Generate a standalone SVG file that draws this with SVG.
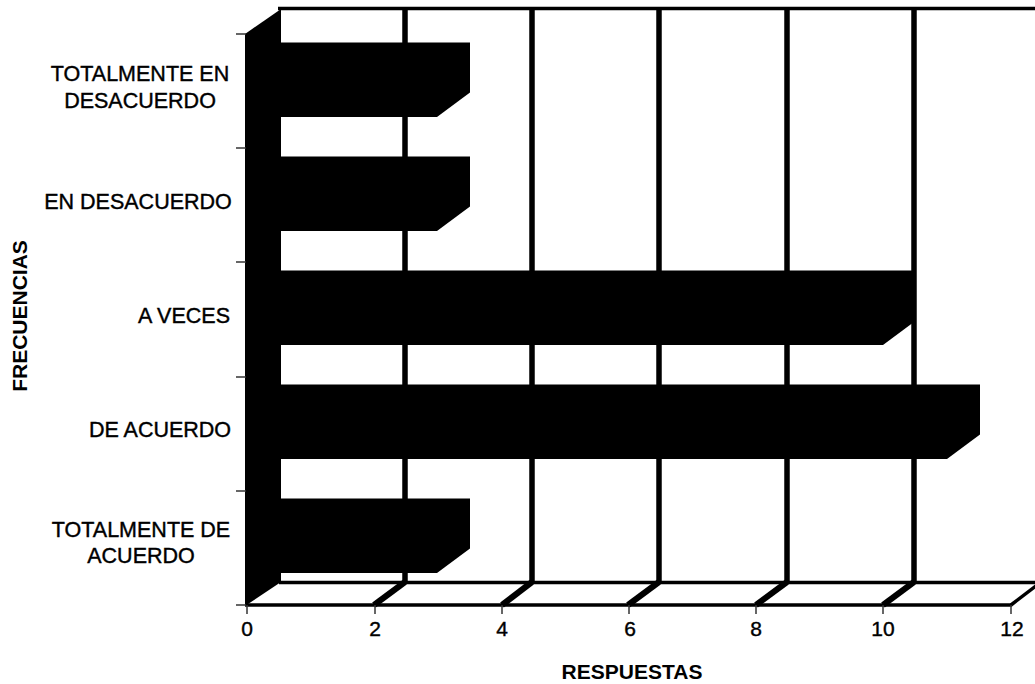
<svg xmlns="http://www.w3.org/2000/svg" width="1035" height="684" viewBox="0 0 1035 684">
<style>
.lbl{font-family:"Liberation Sans",Arial,sans-serif;font-size:21.5px;fill:#000;stroke:#000;stroke-width:0.4;text-anchor:middle}
.num{font-family:"Liberation Sans",Arial,sans-serif;font-size:21px;fill:#000;stroke:#000;stroke-width:0.4;text-anchor:middle}
.ttl{font-family:"Liberation Sans",Arial,sans-serif;font-size:21px;font-weight:bold;fill:#000;text-anchor:middle}
.grid{stroke:#000;stroke-width:5.5;fill:none}
.edge{stroke:#000;stroke-width:3.5;fill:none}
.diag{stroke:#000;stroke-width:6;fill:none}
.tick{stroke:#333;stroke-width:1.5;fill:none}
.bar{fill:#000}
</style>
<rect x="0" y="0" width="1035" height="684" fill="#fff"/>
<g id="walls">
  <polygon points="245,34 281,9 281,582 245,606" fill="#000"/>
</g>
<g id="connectors">
  <line class="edge" x1="278" y1="8.5" x2="1035" y2="8.5"/>
  <line class="grid" x1="405" y1="8" x2="405" y2="582"/>
  <line class="grid" x1="532" y1="8" x2="532" y2="582"/>
  <line class="grid" x1="659" y1="8" x2="659" y2="582"/>
  <line class="grid" x1="787" y1="8" x2="787" y2="582"/>
  <line class="grid" x1="914" y1="8" x2="914" y2="582"/>
  <line class="edge" x1="279" y1="582.5" x2="1035" y2="582.5"/>
  <line class="edge" x1="245" y1="605" x2="1012" y2="605"/>
  <line class="diag" x1="374" y1="605" x2="405" y2="582"/>
  <line class="diag" x1="502" y1="605" x2="532" y2="582"/>
  <line class="diag" x1="628" y1="605" x2="659" y2="582"/>
  <line class="diag" x1="756" y1="605" x2="787" y2="582"/>
  <line class="diag" x1="883" y1="605" x2="914" y2="582"/>
  <line class="edge" x1="1011" y1="605" x2="1041" y2="582"/>
  <line class="tick" x1="236" y1="34" x2="246" y2="34"/>
  <line class="tick" x1="236" y1="148" x2="246" y2="148"/>
  <line class="tick" x1="236" y1="262" x2="246" y2="262"/>
  <line class="tick" x1="236" y1="377" x2="246" y2="377"/>
  <line class="tick" x1="236" y1="491" x2="246" y2="491"/>
  <line class="tick" x1="236" y1="605" x2="246" y2="605"/>
  <line class="tick" x1="247" y1="605" x2="247" y2="614"/>
  <line class="tick" x1="375" y1="605" x2="375" y2="614"/>
  <line class="tick" x1="502" y1="605" x2="502" y2="614"/>
  <line class="tick" x1="629" y1="605" x2="629" y2="614"/>
  <line class="tick" x1="756" y1="605" x2="756" y2="614"/>
  <line class="tick" x1="883" y1="605" x2="883" y2="614"/>
  <line class="tick" x1="1011" y1="605" x2="1011" y2="614"/>
</g>
<g id="bar-totalmente-en-desacuerdo">
  <polygon class="bar" points="245,117 245,67 278,42.5 470,42.5 470,92.5 437,117"/>
</g>
<g id="bar-en-desacuerdo">
  <polygon class="bar" points="245,231 245,181 278,156.5 470,156.5 470,206.5 437,231"/>
</g>
<g id="bar-a-veces">
  <polygon class="bar" points="245,345 245,295 278,270.5 916,270.5 916,320.5 883,345"/>
</g>
<g id="bar-de-acuerdo">
  <polygon class="bar" points="245,459 245,409 278,384.5 980,384.5 980,434.5 947,459"/>
</g>
<g id="bar-totalmente-de-acuerdo">
  <polygon class="bar" points="245,573 245,523 278,498.5 470,498.5 470,548.5 437,573"/>
</g>
<g id="category-labels">
  <text class="lbl" x="140" y="81">TOTALMENTE EN</text>
  <text class="lbl" x="140" y="108">DESACUERDO</text>
  <text class="lbl" x="138" y="209">EN DESACUERDO</text>
  <text class="lbl" x="184" y="323">A VECES</text>
  <text class="lbl" x="160" y="437">DE ACUERDO</text>
  <text class="lbl" x="141" y="537">TOTALMENTE DE</text>
  <text class="lbl" x="141" y="563">ACUERDO</text>
</g>
<g id="value-labels">
  <text class="num" x="247" y="636">0</text>
  <text class="num" x="375" y="636">2</text>
  <text class="num" x="502" y="636">4</text>
  <text class="num" x="630" y="636">6</text>
  <text class="num" x="756" y="636">8</text>
  <text class="num" x="883" y="636">10</text>
  <text class="num" x="1012" y="636">12</text>
</g>
<g id="axis-titles">
  <text class="ttl" x="632" y="679">RESPUESTAS</text>
  <text class="ttl" transform="translate(27,316) rotate(-90)" x="0" y="0">FRECUENCIAS</text>
</g>
</svg>
